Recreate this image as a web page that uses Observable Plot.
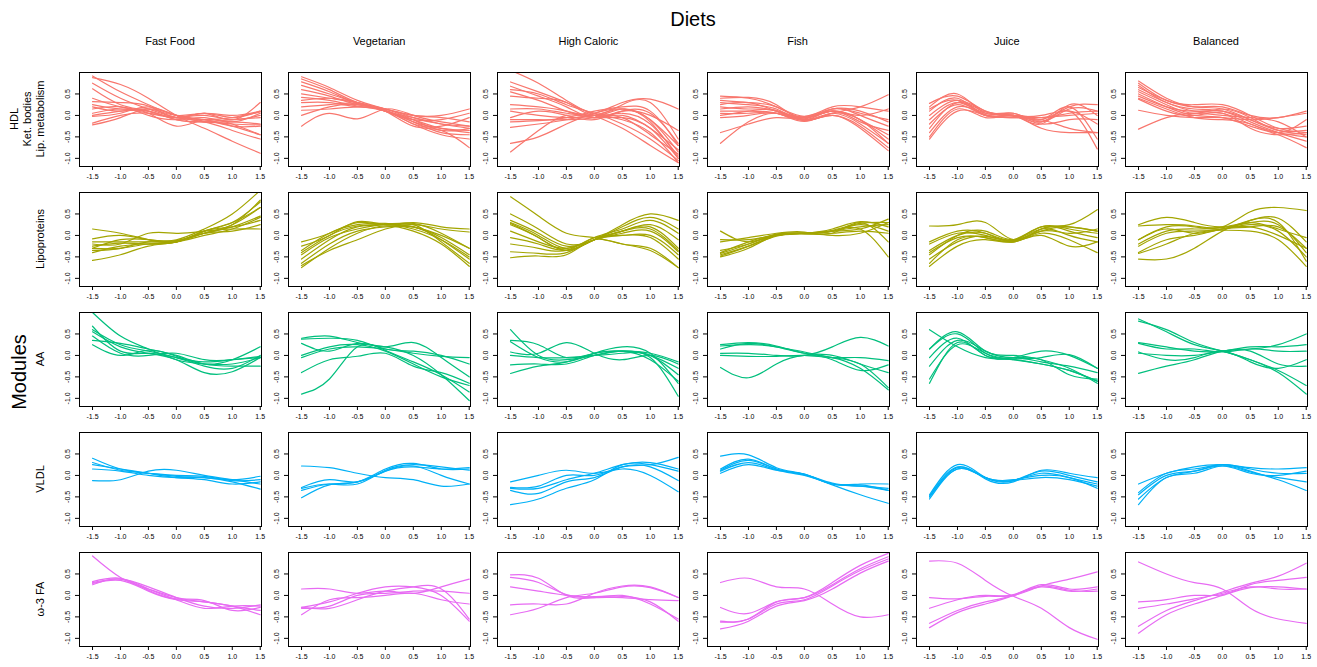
<!DOCTYPE html>
<html><head><meta charset="utf-8">
<script src="https://cdn.jsdelivr.net/npm/d3@7"></script>
<script src="https://cdn.jsdelivr.net/npm/@observablehq/plot@0.6"></script>
<style>
body{margin:0;background:#fff;font-family:"Liberation Sans",Arial,Helvetica,sans-serif;}
#root{position:relative;width:1317px;height:667px;overflow:hidden;background:#fff}
#root svg.panel{position:absolute;overflow:visible}
#labels{position:absolute;left:0;top:0}
</style></head><body><div id="root"></div>
<script>
// ---------- data ----------
const title = "Diets";
const sideTitle = "Modules";
const diets = ["Fast Food", "Vegetarian", "High Caloric", "Fish", "Juice", "Balanced"];
const modules = [["HDL", "Ket. bodies", "Lip. metabolism"], ["Lipoproteins"], ["AA"], ["VLDL"], ["ω-3 FA"]];
const moduleColors = ["#F8766D", "#A3A500", "#00BF7D", "#00B0F6", "#E76BF3"];
const xGrid = [-1.5, -1, -0.5, 0, 0.5, 1, 1.5];
const xTicks = [-1.5, -1, -0.5, 0, 0.5, 1, 1.5];
const yTicks = [-1, -0.5, 0, 0.5];

// each module: 6 panels (diets), each panel: list of curves sampled at xGrid
const hdl = [
  [[0.92,0.55,0.25,0.0,-0.1,-0.25,-0.45],[0.88,0.72,0.4,0.0,-0.3,-0.6,-0.88],[0.75,0.4,0.15,-0.05,-0.15,-0.35,-0.55],[0.62,0.25,0.1,-0.05,0.05,-0.05,0.1],[0.4,0.2,0.05,-0.25,-0.1,-0.2,-0.45],[0.32,0.3,0.22,-0.05,0.05,-0.1,0.3],[0.25,0.15,0.1,-0.1,-0.15,-0.2,-0.22],[0.2,0.1,0.15,0.0,0.05,0.0,0.1],[0.15,0.2,0.0,-0.1,-0.05,-0.15,0.05],[0.05,0.15,0.05,-0.05,0.0,-0.1,0.0],[0.0,0.1,0.1,-0.1,-0.15,-0.1,-0.05],[-0.02,0.05,0.2,0.0,-0.1,-0.05,0.08],[-0.18,0.0,0.05,-0.05,-0.1,-0.25,-0.25],[-0.22,-0.05,0.15,0.0,-0.15,-0.15,-0.2]],
  [[0.9,0.65,0.35,0.15,-0.1,-0.35,-0.3],[0.85,0.6,0.3,0.12,-0.15,-0.4,-0.45],[0.78,0.55,0.28,0.1,-0.2,-0.45,-0.55],[0.7,0.5,0.3,0.1,-0.25,-0.35,-0.75],[0.6,0.45,0.25,0.15,-0.05,-0.2,-0.25],[0.5,0.4,0.3,0.15,0.0,0.0,0.15],[0.42,0.35,0.22,0.1,-0.15,-0.3,-0.35],[0.35,0.4,0.3,0.1,-0.1,-0.1,0.05],[0.3,0.3,0.2,0.12,-0.2,-0.25,-0.05],[0.2,0.25,0.28,0.1,-0.05,-0.2,-0.3],[0.12,0.15,0.2,0.15,0.0,-0.05,-0.15],[0.0,0.2,0.25,0.1,-0.1,-0.3,-0.4],[-0.25,0.05,-0.08,0.15,0.0,-0.15,-0.25]],
  [[1.05,0.75,0.35,0.0,-0.3,-0.7,-1.1],[0.78,0.55,0.3,0.05,-0.05,-0.45,-0.9],[0.68,0.45,0.2,-0.05,0.1,0.0,-0.35],[0.6,0.5,0.25,0.05,-0.2,-0.55,-1.05],[0.55,0.35,0.1,-0.05,0.0,-0.3,-0.8],[0.45,0.4,0.3,0.0,0.15,-0.1,-0.7],[0.25,0.2,0.1,0.0,0.25,0.3,-0.55],[0.15,0.15,0.05,0.05,0.3,0.38,0.15],[0.1,0.0,-0.05,0.0,0.15,-0.15,-1.0],[-0.05,0.1,0.0,-0.1,0.1,0.05,-0.65],[-0.1,-0.1,-0.1,-0.05,0.05,-0.2,-0.95],[-0.15,-0.12,-0.05,0.1,0.2,0.1,-0.7],[-0.28,-0.2,-0.1,0.0,-0.1,-0.4,-1.1],[-0.65,-0.5,-0.2,0.05,0.15,-0.1,-0.85],[-0.85,-0.35,0.0,-0.05,-0.05,-0.3,-1.0]],
  [[0.45,0.4,0.2,-0.05,0.1,-0.1,-0.45],[0.4,0.42,0.25,-0.1,0.15,0.0,-0.25],[0.35,0.3,0.2,-0.02,0.2,0.2,0.1],[0.3,0.25,0.15,-0.1,0.05,-0.2,-0.65],[0.25,0.3,0.1,-0.05,0.1,-0.1,-0.55],[0.2,0.15,0.1,-0.12,0.0,-0.3,-0.82],[0.15,0.2,0.1,-0.03,0.15,0.05,-0.1],[0.1,0.1,0.05,-0.08,0.1,-0.15,-0.35],[0.05,0.05,0.05,-0.14,0.05,0.0,0.15],[0.0,0.1,0.12,-0.1,0.0,-0.25,-0.75],[-0.05,0.0,0.05,-0.12,0.05,0.2,0.48],[-0.4,-0.2,-0.05,-0.06,0.15,0.1,-0.15],[-0.65,-0.15,0.05,-0.05,0.1,-0.1,-0.65]],
  [[0.28,0.45,0.1,0.0,-0.1,0.2,0.25],[0.2,0.5,0.05,0.05,-0.15,0.15,0.1],[0.1,0.4,0.0,0.0,-0.2,0.25,0.0],[0.0,0.35,0.1,-0.02,0.0,0.1,-0.2],[-0.1,0.3,0.05,0.05,-0.1,0.2,-0.55],[-0.2,0.25,0.0,0.0,-0.2,-0.1,-0.1],[-0.3,0.3,0.08,0.0,-0.3,-0.4,-0.4],[-0.4,0.2,0.02,-0.05,-0.05,0.0,0.05],[-0.5,0.15,-0.05,0.0,-0.15,0.1,-0.78],[-0.55,0.1,0.0,-0.05,-0.1,-0.3,-0.4],[0.15,0.35,0.0,0.0,-0.05,0.05,0.1]],
  [[0.8,0.4,0.2,0.15,-0.1,-0.35,-0.45],[0.75,0.35,0.25,0.25,0.0,-0.3,-0.4],[0.7,0.3,0.15,0.1,-0.15,-0.4,-0.6],[0.65,0.35,0.2,0.2,0.0,-0.05,0.1],[0.6,0.3,0.1,0.05,-0.2,-0.4,-0.5],[0.55,0.25,0.05,0.15,-0.05,-0.35,-0.35],[0.5,0.2,0.0,-0.05,-0.25,-0.45,-0.75],[0.45,0.2,0.1,0.1,-0.1,-0.3,-0.25],[0.4,0.15,-0.05,-0.1,-0.2,-0.4,-0.1],[0.38,0.1,0.0,0.05,-0.3,-0.45,-0.4],[0.12,0.0,-0.05,-0.05,-0.1,-0.05,0.05],[-0.32,-0.05,0.05,0.0,-0.05,-0.15,-0.5]]
];
const lipoproteins = [
  [[0.15,0.05,-0.1,-0.15,0.1,0.3,0.65],[-0.08,0.0,-0.1,-0.1,0.15,0.5,1.05],[-0.15,-0.15,-0.15,-0.12,0.05,0.25,0.82],[-0.2,-0.2,0.05,0.05,0.1,0.15,0.15],[-0.25,-0.18,-0.2,-0.15,0.05,0.2,0.45],[-0.3,-0.3,-0.2,-0.15,0.1,0.3,0.78],[-0.35,-0.3,-0.15,-0.15,0.1,0.2,0.35],[-0.4,-0.25,-0.2,-0.15,0.0,0.15,0.42],[-0.58,-0.45,-0.25,-0.15,0.05,0.25,0.65],[-0.3,-0.1,-0.1,-0.12,0.05,0.1,0.25]],
  [[-0.15,0.05,0.3,0.25,0.3,0.2,0.15],[-0.25,0.0,0.32,0.25,0.25,0.15,0.08],[-0.35,0.05,0.25,0.28,0.2,0.0,-0.3],[-0.45,-0.05,0.15,0.25,0.15,-0.1,-0.5],[-0.55,-0.1,0.2,0.25,0.25,-0.15,-0.65],[-0.65,-0.2,0.1,0.2,0.2,-0.05,-0.45],[-0.7,-0.35,-0.1,0.15,0.2,-0.1,-0.55],[-0.75,-0.3,0.05,0.22,0.1,-0.2,-0.72],[-0.4,0.0,0.22,0.26,0.28,0.05,-0.3]],
  [[0.9,0.45,0.05,-0.05,-0.2,-0.35,-0.75],[0.5,0.15,-0.2,-0.1,0.25,0.5,0.35],[0.35,0.05,-0.25,-0.1,0.2,0.42,0.15],[0.3,0.0,-0.3,-0.05,0.15,0.35,0.05],[0.25,-0.05,-0.35,-0.1,0.1,0.25,-0.1],[0.1,-0.15,-0.3,-0.1,0.05,0.1,-0.38],[-0.05,-0.2,-0.35,-0.1,0.1,0.2,-0.3],[-0.2,-0.3,-0.35,-0.05,0.0,0.0,-0.45],[-0.38,-0.42,-0.4,-0.1,0.0,-0.05,-0.55],[-0.52,-0.48,-0.45,-0.1,-0.2,-0.3,-0.75],[0.28,-0.05,-0.35,-0.1,0.1,0.15,-0.35]],
  [[0.1,-0.15,0.02,0.05,0.1,0.15,0.38],[-0.1,-0.1,0.0,0.05,0.15,0.32,0.2],[-0.15,-0.05,0.05,0.08,0.05,0.3,-0.15],[-0.35,-0.2,0.0,0.05,0.1,0.25,0.1],[-0.4,-0.15,0.02,0.05,0.1,0.15,-0.5],[-0.45,-0.25,-0.02,0.05,0.0,0.05,0.3],[-0.5,-0.3,0.0,0.03,0.05,0.1,0.05],[-0.42,-0.2,0.03,0.06,0.1,0.2,0.25],[-0.48,-0.25,0.0,0.05,0.12,0.28,0.3]],
  [[0.22,0.25,0.3,-0.1,0.15,0.25,0.6],[-0.15,0.1,0.05,-0.15,0.15,0.2,0.1],[-0.2,0.05,0.0,-0.1,0.2,0.1,-0.05],[-0.35,0.0,0.05,-0.12,0.1,0.05,0.15],[-0.4,-0.05,-0.05,-0.15,0.05,-0.1,-0.4],[-0.45,0.0,0.1,-0.1,0.15,0.0,-0.15],[-0.65,-0.1,-0.05,-0.12,0.2,0.15,0.05],[-0.72,-0.25,-0.1,-0.15,0.0,-0.25,-0.15],[-0.55,-0.15,-0.02,-0.12,0.1,0.2,0.1]],
  [[0.25,0.42,0.3,0.2,0.3,0.15,-0.05],[0.22,0.25,0.22,0.2,0.55,0.65,0.58],[-0.1,0.2,0.2,0.15,0.35,0.4,-0.15],[-0.2,0.1,0.15,0.18,0.3,0.25,-0.4],[-0.25,0.05,0.1,0.15,0.25,0.1,-0.5],[-0.4,-0.1,0.0,0.15,0.2,0.0,-0.3],[-0.42,-0.2,0.05,0.12,0.1,-0.1,-0.72],[-0.55,-0.55,-0.3,0.1,0.35,0.3,-0.6],[-0.1,0.15,0.05,0.15,0.2,0.2,-0.3]]
];
const aa = [
  [[1.0,0.45,0.15,-0.1,-0.2,-0.2,-0.05],[0.68,0.1,0.05,-0.05,-0.15,-0.1,-0.05],[0.6,0.25,0.1,-0.05,-0.25,-0.3,0.0],[0.55,0.2,0.05,-0.1,-0.4,-0.38,-0.05],[0.45,0.05,0.0,0.05,-0.1,-0.1,-0.02],[0.35,0.28,0.15,0.0,-0.2,-0.25,-0.25],[0.25,0.0,0.12,-0.02,-0.2,-0.1,0.2]],
  [[0.4,0.45,0.3,0.2,0.0,-0.45,-1.05],[0.38,0.4,0.35,0.15,0.1,0.0,-0.2],[0.28,0.1,0.28,0.2,0.3,-0.05,-0.5],[0.0,0.2,0.25,0.1,-0.2,-0.5,-0.7],[-0.05,0.15,0.2,0.15,0.05,-0.02,-0.05],[-0.4,-0.1,-0.02,0.05,-0.25,-0.4,-0.65],[-0.9,-0.55,0.2,0.12,-0.15,-0.45,-0.85]],
  [[0.6,0.0,-0.1,0.0,0.1,0.0,-0.3],[0.35,0.25,-0.05,0.05,0.1,-0.1,-0.6],[0.32,-0.05,-0.15,0.05,0.2,0.05,-0.65],[0.08,0.05,0.3,0.05,-0.1,0.0,-0.2],[0.0,-0.05,-0.05,0.0,0.05,-0.05,-0.95],[-0.22,-0.2,-0.2,0.0,0.1,0.0,-0.45],[-0.42,-0.25,-0.15,0.05,0.1,0.05,-0.15]],
  [[0.25,0.3,0.22,0.05,-0.05,-0.3,-0.8],[0.22,0.25,0.2,0.05,0.0,-0.2,-0.4],[0.15,0.28,0.2,0.08,-0.05,-0.2,-0.75],[0.05,0.05,0.0,0.0,0.2,0.42,0.22],[0.0,-0.02,-0.02,0.0,-0.05,-0.05,-0.12],[-0.28,-0.52,-0.2,0.0,-0.1,-0.35,-0.22]],
  [[0.6,0.2,-0.05,-0.1,-0.2,-0.35,-0.6],[0.15,0.55,0.1,0.0,-0.1,-0.3,-0.65],[0.15,0.5,0.05,-0.05,0.1,0.0,-0.3],[-0.05,0.4,0.0,-0.05,-0.15,-0.25,-0.4],[-0.25,0.35,0.1,-0.05,-0.1,-0.45,-0.55],[-0.55,0.25,0.05,-0.1,-0.2,-0.35,-0.6],[-0.65,0.3,0.0,-0.08,-0.05,0.02,-0.3]],
  [[0.85,0.55,0.25,0.1,-0.1,-0.35,-0.7],[0.8,0.6,0.3,0.1,-0.1,-0.4,-0.9],[0.3,0.2,0.1,0.1,0.2,0.2,0.25],[0.28,0.15,0.15,0.08,0.15,0.1,0.1],[0.08,-0.1,-0.05,0.1,-0.15,-0.3,-0.1],[0.05,0.0,0.0,0.1,0.1,-0.2,-0.25],[-0.42,-0.25,-0.1,0.1,0.15,0.25,0.5]]
];
const vldl = [
  [[0.4,0.15,0.05,-0.02,-0.05,-0.15,-0.32],[0.3,0.12,0.05,0.0,-0.02,-0.12,-0.1],[0.25,0.15,0.05,-0.05,-0.1,-0.2,-0.15],[0.15,0.1,0.0,-0.05,-0.05,-0.1,-0.02],[-0.12,-0.1,0.1,0.12,0.0,-0.1,-0.2]],
  [[0.22,0.18,0.05,-0.05,-0.1,-0.25,-0.2],[-0.28,-0.1,-0.15,0.1,0.2,0.15,0.18],[-0.3,-0.2,-0.2,0.12,0.25,0.2,0.12],[-0.35,-0.2,-0.15,0.15,0.28,0.15,0.15],[-0.52,-0.22,-0.15,0.1,0.22,0.0,-0.2]],
  [[-0.15,0.0,0.12,0.05,0.15,0.0,-0.38],[-0.28,-0.25,0.0,0.0,0.2,0.25,0.42],[-0.3,-0.3,-0.1,0.05,0.25,0.3,0.15],[-0.35,-0.42,-0.15,-0.05,0.2,0.2,-0.12],[-0.68,-0.55,-0.3,-0.1,0.25,0.25,0.1]],
  [[0.45,0.48,0.18,0.03,-0.2,-0.2,-0.2],[0.15,0.38,0.15,0.02,-0.18,-0.25,-0.3],[0.12,0.35,0.15,0.02,-0.2,-0.25,-0.35],[0.1,0.3,0.13,0.0,-0.22,-0.45,-0.65],[0.05,0.25,0.12,0.03,-0.2,-0.22,-0.35]],
  [[-0.45,0.25,-0.05,-0.12,0.1,0.0,-0.15],[-0.5,0.18,-0.05,-0.12,0.05,-0.05,-0.2],[-0.55,0.15,-0.05,-0.1,0.0,-0.05,-0.3],[-0.48,0.2,-0.08,-0.15,0.12,0.05,-0.05],[-0.5,0.15,-0.05,-0.12,-0.05,-0.1,-0.25]],
  [[-0.2,0.05,0.2,0.25,0.18,0.15,0.18],[-0.4,0.05,0.15,0.25,0.15,0.05,0.05],[-0.45,0.0,0.1,0.22,0.05,0.0,0.1],[-0.55,-0.05,0.1,0.25,0.1,-0.1,-0.35],[-0.68,-0.05,0.05,0.22,0.08,-0.05,-0.15]]
];
const omega3 = [
  [[0.92,0.42,0.15,-0.05,-0.15,-0.25,-0.45],[0.3,0.38,0.2,-0.05,-0.25,-0.3,-0.22],[0.28,0.35,0.1,-0.1,-0.15,-0.25,-0.35],[0.25,0.38,0.12,-0.08,-0.12,-0.35,-0.28],[0.32,0.4,0.15,-0.1,-0.3,-0.25,-0.25]],
  [[0.15,0.15,0.05,0.1,0.05,0.2,0.38],[-0.28,-0.15,0.05,0.2,0.2,0.0,-0.6],[-0.3,-0.25,0.0,0.05,0.1,0.1,0.05],[-0.45,-0.1,-0.05,0.0,0.05,-0.1,-0.2],[-0.28,-0.3,-0.1,0.1,0.2,0.15,-0.55]],
  [[0.48,0.4,0.0,-0.05,0.0,-0.2,-0.55],[0.42,0.3,0.02,-0.03,-0.02,-0.15,-0.6],[0.2,0.1,0.0,-0.05,-0.05,-0.1,-0.12],[-0.22,-0.2,-0.2,0.05,0.22,0.2,-0.05],[-0.45,-0.3,-0.05,0.05,0.2,0.18,-0.05]],
  [[0.3,0.4,0.2,0.15,-0.2,-0.5,-0.45],[-0.28,-0.42,-0.15,-0.05,0.3,0.7,0.98],[-0.6,-0.55,-0.15,-0.05,0.25,0.62,0.9],[-0.62,-0.55,-0.2,-0.1,0.22,0.58,0.85],[-0.78,-0.6,-0.25,-0.12,0.15,0.52,0.8]],
  [[0.8,0.75,0.35,-0.02,-0.3,-0.75,-1.02],[-0.05,-0.08,-0.02,0.0,0.22,0.38,0.55],[-0.3,-0.1,0.0,0.02,0.25,0.15,0.2],[-0.65,-0.35,-0.15,0.0,0.2,0.1,0.15],[-0.75,-0.4,-0.2,0.0,0.22,0.12,0.1]],
  [[0.78,0.5,0.3,0.15,-0.3,-0.55,-0.65],[-0.15,-0.1,0.0,0.02,0.25,0.35,0.42],[-0.3,-0.2,-0.08,0.05,0.2,0.15,0.15],[-0.72,-0.35,-0.12,0.08,0.28,0.45,0.75],[-0.88,-0.45,-0.2,0.0,0.18,0.2,0.15]]
];
const moduleData = [hdl, lipoproteins, aa, vldl, omega3];

// ---------- layout ----------
const FONT = '"Liberation Sans", Arial, Helvetica, sans-serif';
const frameLeft0 = 79, colStep = 209.2, frameW = 182;
const frameTop0 = 72, rowStep = 120, frameH = 94;
const mL = 24, mR = 4, mT = 4, mB = 22;
const fmt = d => d.toFixed(1);
const root = document.getElementById("root");

moduleData.forEach((panels, r) => {
  panels.forEach((curves, c) => {
    const rows = [];
    curves.forEach((vals, k) => vals.forEach((v, i) => rows.push({x: xGrid[i], y: v, id: k})));
    const svg = Plot.plot({
      width: frameW + mL + mR,
      height: frameH + mT + mB,
      marginLeft: mL, marginRight: mR, marginTop: mT, marginBottom: mB,
      x: {domain: [-1.733, 1.523], label: null, axis: null},
      y: {domain: [-1.19, 1.0], label: null, axis: null},
      style: {fontFamily: FONT, fontSize: "7px", color: "#000", background: "transparent", overflow: "visible"},
      marks: [
        Plot.line(rows, {x: "x", y: "y", z: "id", stroke: moduleColors[r], strokeWidth: 1.2, curve: "natural", clip: true}),
        Plot.frame({stroke: "#000", strokeWidth: 1}),
        Plot.axisX(xTicks, {tickSize: 4, tickPadding: 4, tickFormat: fmt, label: null, fontSize: 7}),
        Plot.axisY(yTicks, {tickSize: 4, tickPadding: 6, tickRotate: -90, tickFormat: fmt, label: null, fontSize: 7})
      ]
    });
    svg.classList.add("panel");
    svg.style.left = (frameLeft0 + c * colStep - mL) + "px";
    svg.style.top = (frameTop0 + r * rowStep - mT) + "px";
    root.appendChild(svg);
  });
});

// ---------- titles / strip labels ----------
const lab = d3.select(root).append("svg").attr("id", "labels")
  .attr("width", 1317).attr("height", 667)
  .style("font-family", FONT).style("pointer-events", "none");
lab.append("text").attr("x", 693).attr("y", 19).attr("text-anchor", "middle")
  .attr("dominant-baseline", "central").attr("font-size", 20).text(title);
diets.forEach((d, c) => {
  lab.append("text").attr("x", frameLeft0 + c * colStep + frameW / 2).attr("y", 41)
    .attr("text-anchor", "middle").attr("dominant-baseline", "central").attr("font-size", 11).text(d);
});
lab.append("text").attr("transform", "translate(19,372) rotate(-90)").attr("text-anchor", "middle")
  .attr("dominant-baseline", "central").attr("font-size", 20).text(sideTitle);
modules.forEach((lines, r) => {
  const cy = frameTop0 + r * rowStep + frameH / 2;
  const n = lines.length;
  lines.forEach((t, i) => {
    const cx = 40 - (n - 1 - i) * 13;
    lab.append("text").attr("transform", `translate(${cx},${cy}) rotate(-90)`).attr("text-anchor", "middle")
      .attr("dominant-baseline", "central").attr("font-size", 11).text(t);
  });
});
</script></body></html>
